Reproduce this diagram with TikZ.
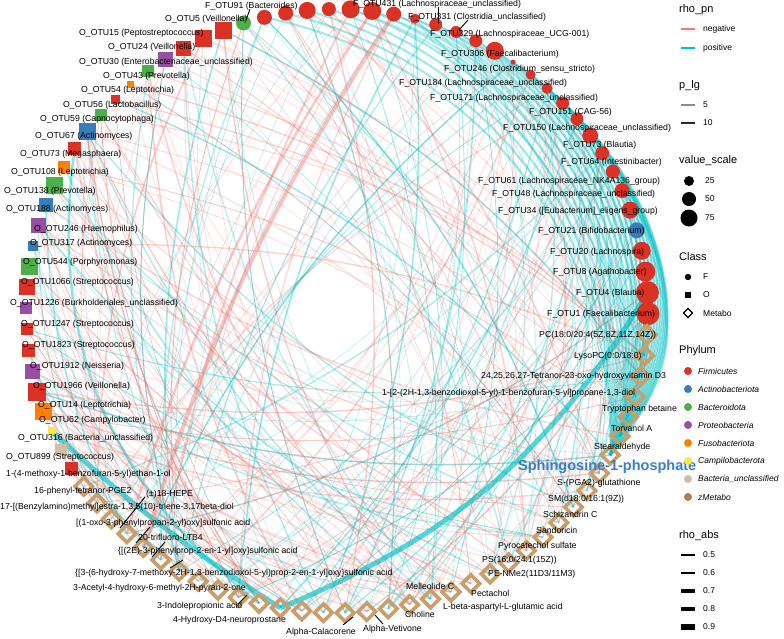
\documentclass[tikz,border=0pt]{standalone}
\usepackage{fontspec}
\setmainfont{Liberation Sans}
\usetikzlibrary{shapes.geometric}
\definecolor{negred}{HTML}{F8766D}
\definecolor{poscyan}{HTML}{00BFC4}
\definecolor{firm}{RGB}{220,50,38}
\definecolor{acti}{HTML}{377EB8}
\definecolor{bact}{HTML}{4DAF4A}
\definecolor{prot}{HTML}{984EA3}
\definecolor{fuso}{HTML}{FF7F00}
\definecolor{camp}{RGB}{245,235,60}
\definecolor{bunc}{RGB}{210,190,160}
\definecolor{zmet}{RGB}{175,125,80}
\definecolor{metab}{RGB}{200,158,108}
\definecolor{sphblue}{RGB}{58,125,200}

% arc between two ring positions, always bulging outwards
\newcommand{\netlink}[6]{%
  \pgfmathtruncatemacro\netd{mod(4*(#2-#1)+720,360)}%
  \ifnum\netd<180 \def\nets{1}\else\def\nets{-1}\fi
  \pgfmathsetmacro\netout{-\nets*#6}%
  \pgfmathsetmacro\netin{180+\nets*#6}%
  \draw[#3, line width=#4, draw opacity=#5] (p#1) to[out=\netout, in=\netin, relative] (p#2);%
}

\tikzset{
  fnode/.style={circle, inner sep=0pt, minimum size=#1},
  onode/.style={rectangle, inner sep=0pt, minimum size=#1},
  mnode/.style={diamond, aspect=1, draw=metab, line width=3.6pt, inner sep=0pt, minimum size=19},
  lab/.style={anchor=west, inner sep=0pt, font=\fontsize{8.7}{10}\selectfont},
  ttl/.style={anchor=west, inner sep=0pt, font=\fontsize{11}{13}\selectfont},
  itm/.style={anchor=west, inner sep=0pt, font=\fontsize{8.5}{10}\selectfont},
  leader/.style={line width=0.9pt},
}

\begin{document}
\begin{tikzpicture}[x=1pt,y=-1pt]
\useasboundingbox (0,0) rectangle (784,638);

% ring positions
\foreach \k in {0,...,89}
  \coordinate (p\k) at ({337+311*cos(4*\k-0.5)},{311-302*sin(4*\k-0.5)});

% correlation edges
\pgfmathsetseed{42}
\foreach \i in {1,...,300}{
  \pgfmathrandominteger{\ea}{0}{53}
  \pgfmathrandominteger{\eb}{54}{89}
  \pgfmathsetmacro\ew{0.5+1.1*rnd}
  \pgfmathsetmacro\eo{0.15+0.25*rnd}
  \pgfmathsetmacro\ep{rnd}
  \pgfmathtruncatemacro\ecy{((\ea<28) && (\ep<0.6)) || ((\ea>27) && (\ep<0.35)) ? 1 : 0}
  \ifnum\ecy=1 \def\ecol{poscyan}\else\def\ecol{negred}\fi
  \netlink{\ea}{\eb}{\ecol}{\ew}{\eo}{12}
}
\foreach \a in {6,...,26} \netlink{\a}{83}{poscyan}{2.2}{0.35}{40};
\foreach \a in {3,...,22} \netlink{\a}{84}{poscyan}{1.6}{0.3}{40};
\netlink{51}{65}{poscyan}{5}{0.65}{5}
\netlink{1}{65}{poscyan}{5}{0.65}{18}
\netlink{37}{64}{poscyan}{2.5}{0.45}{30}
\netlink{20}{58}{negred}{4}{0.45}{8}
\netlink{21}{57}{negred}{2.5}{0.4}{8}
\netlink{22}{59}{negred}{2}{0.35}{8}

% F nodes
\foreach \k/\s/\c in {0/23/firm,1/23/firm,2/20/firm,3/18/firm,4/16/acti,5/17/firm,
    6/15/firm,7/14/firm,8/14/firm,9/16/firm,10/13/firm,11/13/firm,12/11/firm,
    13/10/firm,14/5/firm,15/18/firm,16/13/firm,17/12/firm,18/13/firm,19/10/firm,
    20/15/firm,21/18/firm,22/18/firm,23/14/firm,24/17/firm,25/15/firm,26/15/firm,27/15/bact}
  \node[fnode=\s, fill=\c] (n\k) at (p\k) {};
% O nodes
\foreach \k/\s/\c in {28/17/firm,29/17/firm,30/15/firm,31/15/prot,32/12/bact,33/7/fuso,
    34/9/firm,35/12/bact,36/17/acti,37/13/firm,38/12/fuso,39/17/bact,40/14/acti,
    41/15/prot,42/10/acti,43/17/bact,44/16/firm,45/12/prot,46/12/firm,47/13/firm,
    48/15/prot,49/18/firm,50/17/fuso,51/8/camp,52/12/bunc,53/13/firm}
  \node[onode=\s, fill=\c] (n\k) at (p\k) {};
% metabolites
\foreach \k in {54,...,89}
  \node[mnode] (n\k) at (p\k) {};

% labels F
\node[lab] (tF1) at (547,314) {F\_OTU1 (Faecalibacterium)};
\node[lab] (tF4) at (576,293) {F\_OTU4 (Blautia)};
\node[lab] (tF8) at (553,272) {F\_OTU8 (Agathobacter)};
\node[lab] (tF20) at (550,252) {F\_OTU20 (Lachnospira)};
\node[lab] (tF21) at (538,231) {F\_OTU21 (Bifidobacterium)};
\node[lab] (tF34) at (498,211) {F\_OTU34 ([Eubacterium]\_eligens\_group)};
\node[lab] (tF48) at (492,194) {F\_OTU48 (Lachnospiraceae\_unclassified)};
\node[lab] (tF61) at (478,181) {F\_OTU61 (Lachnospiraceae\_NK4A136\_group)};
\node[lab] (tF64) at (561,162) {F\_OTU64 (Intestinibacter)};
\node[lab] (tF73) at (563,145) {F\_OTU73 (Blautia)};
\node[lab] (tF150) at (503,128) {F\_OTU150 (Lachnospiraceae\_unclassified)};
\node[lab] (tF151) at (529,112) {F\_OTU151 (CAG-56)};
\node[lab] (tF171) at (430,98) {F\_OTU171 (Lachnospiraceae\_unclassified)};
\node[lab] (tF184) at (399,83) {F\_OTU184 (Lachnospiraceae\_unclassified)};
\node[lab] (tF246) at (444,69) {F\_OTU246 (Clostridium\_sensu\_stricto)};
\node[lab] (tF306) at (441,54) {F\_OTU306 (Faecalibacterium)};
\node[lab] (tF329) at (430,34) {F\_OTU329 (Lachnospiraceae\_UCG-001)};
\node[lab] (tF331) at (408,17) {F\_OTU331 (Clostridia\_unclassified)};
\node[lab] (tF431) at (353,4) {F\_OTU431 (Lachnospiraceae\_unclassified)};
\node[lab] (tF91) at (205,6) {F\_OTU91 (Bacteroides)};
% labels O
\node[lab] (tO5) at (165,19) {O\_OTU5 (Veillonella)};
\node[lab] (tO15) at (79,33) {O\_OTU15 (Peptostreptococcus)};
\node[lab] (tO24) at (108,47) {O\_OTU24 (Veillonella)};
\node[lab] (tO30) at (79,62) {O\_OTU30 (Enterobacteriaceae\_unclassified)};
\node[lab] (tO43) at (103,76) {O\_OTU43 (Prevotella)};
\node[lab] (tO54) at (81,90) {O\_OTU54 (Leptotrichia)};
\node[lab] (tO56) at (63,105) {O\_OTU56 (Lactobacillus)};
\node[lab] (tO59) at (40,119) {O\_OTU59 (Capnocytophaga)};
\node[lab] (tO67) at (35,136) {O\_OTU67 (Actinomyces)};
\node[lab] (tO73) at (20,154) {O\_OTU73 (Megasphaera)};
\node[lab] (tO108) at (11,172) {O\_OTU108 (Leptotrichia)};
\node[lab] (tO138) at (4,191) {O\_OTU138 (Prevotella)};
\node[lab] (tO188) at (6,209) {O\_OTU188 (Actinomyces)};
\node[lab] (tO246) at (34,229) {O\_OTU246 (Haemophilus)};
\node[lab] (tO317) at (30,243) {O\_OTU317 (Actinomyces)};
\node[lab] (tO544) at (23,262) {O\_OTU544 (Porphyromonas)};
\node[lab] (tO1066) at (21,282) {O\_OTU1066 (Streptococcus)};
\node[lab] (tO1226) at (10,303) {O\_OTU1226 (Burkholderiales\_unclassified)};
\node[lab] (tO1247) at (21,324) {O\_OTU1247 (Streptococcus)};
\node[lab] (tO1823) at (22,345) {O\_OTU1823 (Streptococcus)};
\node[lab] (tO1912) at (30,366) {O\_OTU1912 (Neisseria)};
\node[lab] (tO1966) at (33,386) {O\_OTU1966 (Veillonella)};
\node[lab] (tO14) at (38,405) {O\_OTU14 (Leptotrichia)};
\node[lab] (tO62) at (39,420) {O\_OTU62 (Campylobacter)};
\node[lab] (tO316) at (18,438) {O\_OTU316 (Bacteria\_unclassified)};
\node[lab] (tO899) at (6,457) {O\_OTU899 (Streptococcus)};
% labels metabolites
\node[lab] (tm1) at (6,474) {1-(4-methoxy-1-benzofuran-5-yl)ethan-1-ol};
\node[lab] (tm2) at (34,491) {16-phenyl-tetranor-PGE2};
\node[lab] (tm3) at (146,494) {(±)18-HEPE};
\node[lab] (tm4) at (0,507) {17-[(Benzylamino)methyl]estra-1,3,5(10)-triene-3,17beta-diol};
\node[lab] (tm5) at (76,523) {[(1-oxo-3-phenylpropan-2-yl)oxy]sulfonic acid};
\node[lab] (tm6) at (138,537) {20-trifluoro-LTB4};
\node[lab] (tm7) at (118,551) {\{[(2E)-3-phenylprop-2-en-1-yl]oxy\}sulfonic acid};
\node[lab] (tm8) at (75,573) {\{[3-(6-hydroxy-7-methoxy-2H-1,3-benzodioxol-5-yl)prop-2-en-1-yl]oxy\}sulfonic acid};
\node[lab] (tm9) at (73,588) {3-Acetyl-4-hydroxy-6-methyl-2H-pyran-2-one};
\node[lab] (tm10) at (157,606) {3-Indolepropionic acid};
\node[lab] (tm11) at (173,620) {4-Hydroxy-D4-neuroprostane};
\node[lab] (tm12) at (286,632) {Alpha-Calacorene};
\node[lab] (tm13) at (363,629) {Alpha-Vetivone};
\node[lab] (tm14) at (405,614) {Choline};
\node[lab] (tm15) at (406,586) {Melleolide C};
\node[lab] (tm16) at (443,607) {L-beta-aspartyl-L-glutamic acid};
\node[lab] (tm17) at (471,593) {Pectachol};
\node[lab] (tm18) at (488,574) {PE-NMe2(11D3/11M3)};
\node[lab] (tm19) at (482,560) {PS(16:0/24:1(15Z))};
\node[lab] (tm20) at (498,546) {Pyrocatechol sulfate};
\node[lab] (tm21) at (536,530) {Sandoricin};
\node[lab] (tm22) at (543,514) {Schizandrin C};
\node[lab] (tm23) at (548,499) {SM(d18:0/16:1(9Z))};
\node[lab] (tm24) at (557,483) {S-(PGA2)-glutathione};
\node[lab, font=\fontsize{14.5}{16}\selectfont\bfseries, text=sphblue] (tm25) at (518,467) {Sphingosine-1-phosphate};
\node[lab] (tm26) at (594,447) {Stearaldehyde};
\node[lab] (tm27) at (611,428) {Torvanol A};
\node[lab] (tm28) at (602,409) {Tryptophan betaine};
\node[lab] (tm29) at (382,393) {1-[2-(2H-1,3-benzodioxol-5-yl)-1-benzofuran-5-yl]propane-1,3-diol};
\node[lab] (tm30) at (481,376) {24,25,26,27-Tetranor-23-oxo-hydroxyvitamin D3};
\node[lab] (tm31) at (574,356) {LysoPC(0:0/18:0)};
\node[lab] (tm32) at (539,335) {PC(18:0/20:4(5Z,8Z,11Z,14Z))};

% leader lines
\draw[leader] (250,9) -- (246,20);
\draw[leader] (438,7) -- (438,24);
\draw[leader] (468,20) -- (459,30);
\draw[leader] (145,497) -- (120,528);
\draw[leader] (150,527) -- (136,543);
\draw[leader] (165,542) -- (152,557);
\draw[leader] (183,560) -- (170,568);
\draw[leader] (247,595) -- (238,604);
\draw[leader] (353,617) -- (343,625);
\draw[leader] (375,615) -- (383,624);

% legend
\node[ttl] (lg1) at (679,10) {rho\_pn};
\draw[negred, line width=1.1pt] (681,29) -- (695,29);
\node[itm] at (703,29) {negative};
\draw[poscyan, line width=1.1pt] (681,48) -- (695,48);
\node[itm] at (703,48) {positive};
\node[ttl] (lg2) at (679,86) {p\_lg};
\draw[black!45, line width=1.1pt] (681,105) -- (695,105);
\node[itm] at (703,105) {5};
\draw[black!85, line width=1.1pt] (681,123) -- (695,123);
\node[itm] at (703,123) {10};
\node[ttl] (lg3) at (679,161) {value\_scale};
\fill (689,181) circle (5);
\node[itm] at (705,181) {25};
\fill (689,199) circle (7);
\node[itm] at (705,199) {50};
\fill (689,218) circle (8.5);
\node[itm] at (705,218) {75};
\node[ttl] (lg4) at (679,257) {Class};
\fill (688,277) circle (3.2);
\node[itm] at (703,277) {F};
\fill (685,292) rectangle (691,298);
\node[itm] at (703,295) {O};
\draw[line width=1.2pt] (688,308.5) -- (692.5,313) -- (688,317.5) -- (683.5,313) -- cycle;
\node[itm] at (703,313) {Metabo};
\node[ttl] (lg5) at (679,351) {Phylum};
\foreach \y/\c/\t in {371/firm/Firmicutes, 389/acti/Actinobacteriota, 407/bact/Bacteroidota,
    425/prot/Proteobacteria, 443/fuso/Fusobacteriota, 461/camp/Campilobacterota,
    479/bunc/Bacteria\_unclassified, 497/zmet/zMetabo}{
  \fill[\c] (688,\y) circle (4);
  \node[itm, font=\fontsize{8.5}{10}\selectfont\itshape] at (698,\y) {\t};
}
\node[ttl] (lg6) at (679,536) {rho\_abs};
\foreach \y/\w/\t in {555/1.6/0.5, 573/2.5/0.6, 591/3.4/0.7, 609/4.3/0.8, 627/5.2/0.9}{
  \draw[line width=\w pt] (681,\y) -- (695,\y);
  \node[itm] at (703,\y) {\t};
}
\end{tikzpicture}
\end{document}
